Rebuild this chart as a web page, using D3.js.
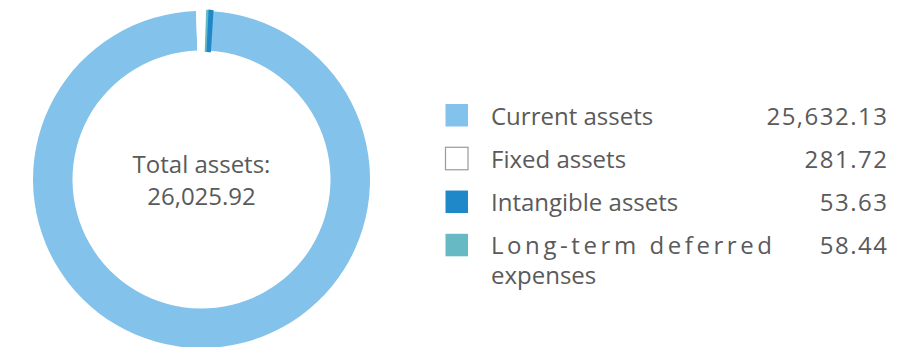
<!DOCTYPE html>
<html>
<head>
<meta charset="utf-8">
<script src="https://cdn.jsdelivr.net/npm/d3@7/dist/d3.min.js"></script>
<style>
  html, body { margin: 0; padding: 0; background: #ffffff; }
  svg { display: block; font-family: "Open Sans", "Noto Sans", sans-serif; }
</style>
</head>
<body>
<svg id="chart" width="900" height="347"></svg>
<script>
// Asset composition (units as reported)
const categories = ["Current assets", "Fixed assets", "Long-term deferred expenses", "Intangible assets"];
const values = [25632.13, 281.72, 58.44, 53.63];
const colors = ["#83c2ea", "#ffffff", "#67b9c4", "#1f88c9"];

// Legend order and its labels
const legendOrder = ["Current assets", "Fixed assets", "Intangible assets", "Long-term deferred expenses"];
const legendLines = [["Current assets"], ["Fixed assets"], ["Intangible assets"], ["Long-term deferred", "expenses"]];
const totalLabel = "Total assets:";
const totalValue = 26025.92;

const fmt = d3.format(",.2f");
const svg = d3.select("#chart");
const textColor = "#5a5a5a";
const fontSize = 24;

// ---- Donut ----
const cx = 201.5, cy = 179.5, rOuter = 168.5, rInner = 129;
const color = d3.scaleOrdinal().domain(categories).range(colors);

const startDeg = 3.6;
const pie = d3.pie()
  .sort(null)
  .value(d => d.value)
  .startAngle(startDeg * Math.PI / 180)
  .endAngle(startDeg * Math.PI / 180 + 2 * Math.PI);

const arc = d3.arc().innerRadius(rInner).outerRadius(rOuter);

const data = categories.map((c, i) => ({ name: c, value: values[i] }));

const g = svg.append("g").attr("transform", `translate(${cx},${cy})`);
g.selectAll("path")
  .data(pie(data))
  .join("path")
  .attr("d", arc)
  .attr("fill", d => color(d.data.name))
  .attr("stroke", d => color(d.data.name))
  .attr("stroke-width", d => d.data.value < 100 ? 2.8 : 0);

g.append("text")
  .attr("text-anchor", "middle")
  .attr("y", -6.5)
  .attr("font-size", fontSize)
  .attr("fill", textColor)
  .text(totalLabel);
g.append("text")
  .attr("text-anchor", "middle")
  .attr("y", 25.5)
  .attr("font-size", fontSize)
  .attr("fill", textColor)
  .text(fmt(totalValue));

// ---- Legend ----
const rowY = d3.scalePoint().domain(legendOrder).range([124.5, 254.3]);
const boxX = 445.5, boxSize = 22.5, labelX = 491, valueX = 888.5;

const rows = svg.append("g").selectAll("g")
  .data(legendOrder)
  .join("g")
  .attr("transform", d => `translate(0,${rowY(d)})`);

rows.append("rect")
  .attr("x", boxX)
  .attr("y", -20.5)
  .attr("width", boxSize)
  .attr("height", boxSize)
  .attr("fill", d => color(d))
  .attr("stroke", d => d === "Fixed assets" ? "#9a9a9a" : "none")
  .attr("stroke-width", 1.2);

rows.each(function (d, i) {
  const lines = legendLines[i];
  const t = d3.select(this).append("text")
    .attr("x", labelX)
    .attr("font-size", fontSize)
    .attr("fill", textColor);
  lines.forEach((ln, j) => {
    const ts = t.append("tspan")
      .attr("x", labelX)
      .attr("y", j * 29.5)
      .text(ln);
    if (lines.length > 1 && j === 0) {
      ts.attr("textLength", 281).attr("lengthAdjust", "spacing");
    }
  });
});

rows.append("text")
  .attr("x", valueX)
  .attr("text-anchor", "end")
  .attr("font-size", fontSize)
  .attr("letter-spacing", 1.5)
  .attr("fill", textColor)
  .text(d => fmt(values[categories.indexOf(d)]));
</script>
</body>
</html>
